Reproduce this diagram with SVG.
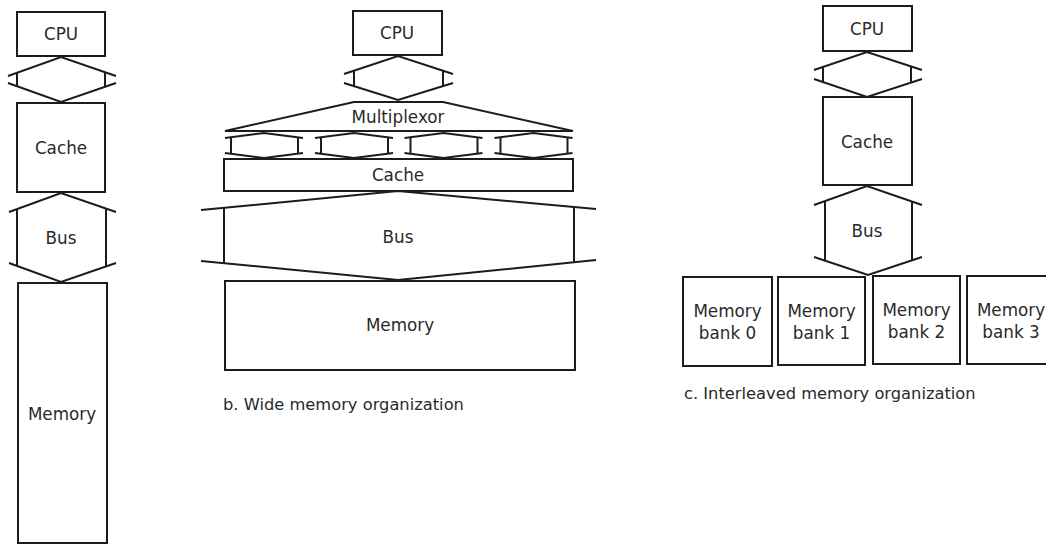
<svg xmlns="http://www.w3.org/2000/svg" width="1046" height="544" viewBox="0 0 1046 544">
  <style>
    .box { fill: #fff; stroke: #1c1c1c; stroke-width: 2; }
    .ln { fill: none; stroke: #1c1c1c; stroke-width: 2; stroke-linejoin: miter; }
    .lbl { font-family: "DejaVu Sans", "Liberation Sans", sans-serif; font-size: 16.8px; fill: #2a2a2a; text-anchor: middle; dominant-baseline: central; }
    .cap { font-family: "DejaVu Sans", "Liberation Sans", sans-serif; font-size: 16.3px; fill: #2a2a2a; dominant-baseline: central; }
  </style>
  <rect width="1046" height="544" fill="#fff"/>

  <!-- a. one-word-wide organization -->
  <g id="a-cpu"><rect class="box" x="17" y="12" width="88" height="44"/><text class="lbl" x="61" y="34">CPU</text></g>
  <g id="a-cache"><rect class="box" x="17" y="103" width="88" height="89"/><text class="lbl" x="61" y="148">Cache</text></g>
  <g id="a-bus">
    <polyline class="ln" points="9,212 61,193 116,212"/>
    <polyline class="ln" points="9,263 61,282 116,263"/>
    <line class="ln" x1="17" y1="209" x2="17" y2="266"/>
    <line class="ln" x1="106" y1="208.5" x2="106" y2="266.5"/>
    <text class="lbl" x="61" y="238">Bus</text>
  </g>
  <g id="a-memory"><rect class="box" x="18" y="283" width="89" height="260"/><text class="lbl" x="62" y="414">Memory</text></g>

  <!-- b. wide memory organization -->
  <g id="b-cpu"><rect class="box" x="353" y="11" width="89" height="44"/><text class="lbl" x="397" y="33">CPU</text></g>
  <g id="b-mux">
    <polygon class="ln" points="354,102 443,102 573,131 225,131"/>
    <text class="lbl" x="398" y="117">Multiplexor</text>
  </g>
  <g id="b-cache"><rect class="box" x="224" y="159" width="349" height="32"/><text class="lbl" x="398" y="175">Cache</text></g>
  <g id="b-bus">
    <polyline class="ln" points="201,210 398,191 596,209"/>
    <polyline class="ln" points="201,261 398,280 596,260"/>
    <line class="ln" x1="224" y1="207.8" x2="224" y2="263.2"/>
    <line class="ln" x1="574" y1="207" x2="574" y2="262"/>
    <text class="lbl" x="398" y="237">Bus</text>
  </g>
  <g id="b-memory"><rect class="box" x="225" y="281" width="350" height="89"/><text class="lbl" x="400" y="325">Memory</text></g>
  <g id="b-caption"><text class="cap" x="223" y="404">b. Wide memory organization</text></g>

  <!-- c. interleaved memory organization -->
  <g id="c-cpu"><rect class="box" x="823" y="6" width="89" height="45"/><text class="lbl" x="867" y="29">CPU</text></g>
  <g id="c-cache"><rect class="box" x="823" y="97" width="89" height="88"/><text class="lbl" x="867" y="142">Cache</text></g>
  <g id="c-bus">
    <polyline class="ln" points="814,205 867,186 922,205"/>
    <polyline class="ln" points="814,257 868,275 922,257"/>
    <line class="ln" x1="825" y1="201" x2="825" y2="261"/>
    <line class="ln" x1="912" y1="201.5" x2="912" y2="260.5"/>
    <text class="lbl" x="867" y="231">Bus</text>
  </g>
  <g id="c-bank0"><rect class="box" x="683" y="277" width="89" height="89"/><text class="lbl" x="727.5" y="311">Memory</text><text class="lbl" x="727.5" y="333">bank 0</text></g>
  <g id="c-bank1"><rect class="box" x="778" y="277" width="87" height="88"/><text class="lbl" x="821.5" y="311">Memory</text><text class="lbl" x="821.5" y="333">bank 1</text></g>
  <g id="c-bank2"><rect class="box" x="873" y="276" width="87" height="88"/><text class="lbl" x="916.5" y="310">Memory</text><text class="lbl" x="916.5" y="332">bank 2</text></g>
  <g id="c-bank3"><rect class="box" x="967" y="276" width="88" height="88"/><text class="lbl" x="1011" y="310">Memory</text><text class="lbl" x="1011" y="332">bank 3</text></g>
  <g id="c-caption"><text class="cap" x="684" y="393">c. Interleaved memory organization</text></g>

  <!-- narrow bus links (CPU to cache, multiplexor to cache) -->
  <g id="connectors">
    <g id="a-cpu-cache">
      <polyline class="ln" points="8,76 61,57 116,76"/>
      <polyline class="ln" points="8,83 61,102 116,83"/>
      <line class="ln" x1="17" y1="72.8" x2="17" y2="86.2"/>
      <line class="ln" x1="105" y1="72.2" x2="105" y2="86.8"/>
    </g>
    <g id="b-cpu-mux">
      <polyline class="ln" points="344,74 398,56 453,74"/>
      <polyline class="ln" points="344,83 398,100 453,83"/>
      <line class="ln" x1="354" y1="70.7" x2="354" y2="86.1"/>
      <line class="ln" x1="443" y1="70.7" x2="443" y2="86.1"/>
    </g>
    <g id="b-mux-cache">
      <g transform="translate(264,0)">
        <polyline class="ln" points="-39,138 0,133 39,138"/>
        <polyline class="ln" points="-39,153 0,158 39,153"/>
        <line class="ln" x1="-33" y1="137.2" x2="-33" y2="153.8"/>
        <line class="ln" x1="34" y1="137.4" x2="34" y2="153.6"/>
      </g>
      <g transform="translate(354,0)">
        <polyline class="ln" points="-39,138 0,133 39,138"/>
        <polyline class="ln" points="-39,153 0,158 39,153"/>
        <line class="ln" x1="-33" y1="137.2" x2="-33" y2="153.8"/>
        <line class="ln" x1="34" y1="137.4" x2="34" y2="153.6"/>
      </g>
      <g transform="translate(443.5,0)">
        <polyline class="ln" points="-39,138 0,133 39,138"/>
        <polyline class="ln" points="-39,153 0,158 39,153"/>
        <line class="ln" x1="-33" y1="137.2" x2="-33" y2="153.8"/>
        <line class="ln" x1="34" y1="137.4" x2="34" y2="153.6"/>
      </g>
      <g transform="translate(533.5,0)">
        <polyline class="ln" points="-39,138 0,133 39,138"/>
        <polyline class="ln" points="-39,153 0,158 39,153"/>
        <line class="ln" x1="-33" y1="137.2" x2="-33" y2="153.8"/>
        <line class="ln" x1="34" y1="137.4" x2="34" y2="153.6"/>
      </g>
    </g>
    <g id="c-cpu-cache">
      <polyline class="ln" points="814,70 867,52 922,70"/>
      <polyline class="ln" points="814,79 867,97 922,79"/>
      <line class="ln" x1="823" y1="67" x2="823" y2="82"/>
      <line class="ln" x1="911" y1="66.6" x2="911" y2="82.4"/>
    </g>
  </g>
</svg>
